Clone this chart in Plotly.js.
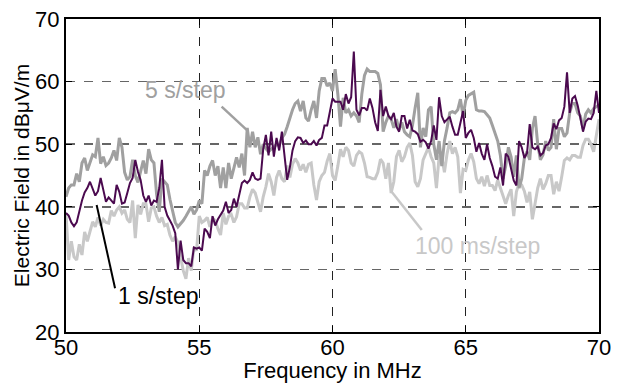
<!DOCTYPE html>
<html>
<head>
<meta charset="utf-8">
<script src="https://cdn.plot.ly/plotly-3.0.1.min.js"></script>
<style>html,body{margin:0;padding:0;background:#fff;}#chart{width:621px;height:383px;}</style>
</head>
<body>
<div id="chart"></div>
<script>
// Frequency grid: 50.0 to 70.0 MHz in 0.1 MHz steps
const freqStart = 50.0;
const freqStep = 0.1;

// 1 s/step (dark purple), dBµV/m
const oneSecStep = [
  39.0, 38.6, 37.5, 36.9, 37.5, 39.5, 41.0, 42.3, 43.0, 44.0,
  42.9, 41.8, 42.5, 44.6, 42.7, 40.8, 41.5, 41.0, 40.5, 43.5,
  42.4, 40.5, 40.7, 42.2, 43.8, 44.6, 47.5, 45.6, 44.3, 41.8,
  40.8, 41.8, 40.2, 41.0, 40.8, 43.0, 47.5, 40.0, 38.6, 37.8,
  37.0, 35.8, 30.0, 34.6, 31.5, 31.0, 31.0, 30.5, 33.5, 33.3,
  33.5, 33.0, 36.5, 36.0, 35.0, 38.5, 37.0, 38.0, 38.8, 39.4,
  40.8, 39.0, 39.5, 41.3, 40.0, 42.2, 43.8, 44.2, 43.8, 44.3,
  45.5, 44.5, 44.3, 44.5, 49.2, 51.5, 48.2, 52.0, 48.0, 51.0,
  49.0, 52.0, 47.8, 44.3, 46.3, 49.0, 50.5, 51.1, 51.0, 50.2,
  50.6, 50.0, 50.0, 50.5, 49.8, 50.7, 51.0, 53.0, 53.0, 55.3,
  57.3, 56.8, 56.8, 56.8, 55.5, 58.0, 56.5, 57.5, 64.8, 55.5,
  54.6, 55.8, 55.8, 55.4, 57.3, 55.8, 53.5, 52.1, 58.7, 54.5,
  56.0, 54.5, 54.0, 55.0, 52.8, 52.0, 54.5, 54.5, 52.5, 53.9,
  52.2, 52.0, 51.6, 50.4, 50.7, 50.3, 49.3, 50.5, 53.0, 50.7,
  57.5, 54.5, 53.5, 53.9, 54.4, 52.8, 51.5, 51.5, 53.6, 55.3,
  51.0, 51.8, 52.3, 51.0, 48.8, 50.2, 48.5, 47.5, 50.0, 47.8,
  46.5, 44.8, 44.5, 46.3, 43.4, 48.5, 48.0, 45.8, 44.2, 43.4,
  50.5, 49.5, 47.8, 48.6, 53.2, 49.5, 49.2, 49.6, 48.2, 48.6,
  49.8, 50.0, 51.0, 53.3, 52.4, 53.8, 54.2, 56.0, 61.5, 55.0,
  57.3, 57.7, 56.2, 54.2, 52.0, 53.6, 54.1, 54.0, 55.0, 58.5,
  55.0
];

// 5 s/step (medium grey)
const fiveSecStep = [
  41.6, 43.0, 43.5, 43.5, 45.3, 44.0, 47.0, 47.8, 45.8, 46.9,
  48.3, 48.0, 51.0, 46.9, 48.0, 46.6, 47.0, 47.8, 49.0, 47.4,
  51.0, 49.5, 45.5, 44.3, 44.8, 47.5, 45.0, 43.9, 45.5, 47.4,
  45.3, 49.2, 47.5, 47.0, 42.0, 39.2, 44.5, 44.0, 43.5, 41.2,
  39.5, 37.5, 36.8, 37.3, 37.8, 38.5, 39.3, 40.0, 38.8, 39.5,
  41.0, 40.5, 45.8, 45.0, 46.5, 47.4, 45.0, 46.5, 43.0, 46.3,
  43.0, 47.0, 44.5, 46.0, 47.9, 46.3, 48.5, 45.0, 52.6, 49.5,
  52.0, 49.5, 51.1, 48.4, 50.0, 49.3, 48.8, 49.2, 49.5, 50.0,
  49.8, 51.0, 51.6, 52.8, 54.2, 55.5, 56.5, 56.9, 55.3, 56.9,
  54.2, 53.7, 55.5, 56.9, 54.2, 58.5, 60.5, 60.5, 59.3, 59.8,
  58.5, 62.0, 58.0, 52.8, 57.4, 55.0, 55.5, 54.5, 55.0, 54.5,
  53.5, 58.0, 61.0, 62.0, 61.6, 61.6, 61.6, 61.3, 59.5, 52.0,
  53.5, 54.5, 54.0, 52.6, 54.0, 52.3, 53.5, 52.0, 51.5, 51.2,
  53.0, 55.8, 58.2, 49.5, 52.6, 51.2, 55.5, 56.0, 50.0, 47.5,
  50.5, 46.5, 50.5, 52.6, 55.0, 55.2, 55.0, 55.5, 57.2, 54.5,
  57.0, 57.8, 58.0, 58.3, 55.5, 55.3, 55.3, 55.2, 54.7, 54.2,
  53.0, 51.8, 50.5, 48.2, 44.5, 46.5, 49.5, 48.0, 44.8, 48.2,
  43.0, 44.5, 47.8, 48.8, 47.5, 52.5, 54.5, 50.0, 47.5, 48.3,
  50.5, 49.0, 49.5, 54.0, 49.2, 52.5, 52.5, 51.2, 51.8, 55.0,
  56.5, 56.5, 55.0, 54.5, 52.5, 54.8, 55.5, 55.0, 55.7, 56.0,
  56.3
];

// 100 ms/step (light grey)
const hundredMsStep = [
  39.0, 31.5, 34.5, 32.0, 31.5, 34.0, 32.3, 36.0, 34.5, 36.0,
  37.6, 36.8, 38.3, 37.0, 38.0, 37.5, 37.4, 39.4, 38.5, 39.5,
  40.0, 39.0, 39.5, 38.0, 37.5, 41.0, 35.0, 40.3, 38.8, 40.5,
  40.5, 37.6, 39.8, 40.0, 38.5, 37.5, 38.3, 37.0, 37.2, 35.5,
  34.5, 35.2, 34.3, 32.0, 29.8, 28.5, 31.8, 29.8, 33.5, 33.0,
  38.5, 37.5, 37.8, 38.3, 36.8, 38.2, 37.8, 36.5, 35.5, 39.0,
  37.2, 38.5, 38.8, 37.5, 38.4, 40.5, 40.5, 39.8, 39.8, 41.6,
  42.8, 42.2, 40.5, 39.2, 41.6, 43.2, 45.3, 44.0, 41.8, 44.7,
  45.8, 44.5, 44.0, 46.6, 44.7, 46.8, 47.7, 47.0, 45.8, 46.8,
  45.5, 46.8, 47.0, 43.5, 41.1, 44.0, 45.0, 45.5, 47.3, 48.5,
  45.0, 44.2, 46.5, 49.2, 48.0, 49.5, 49.0, 47.0, 46.5, 48.2,
  48.8, 48.5, 47.0, 44.8, 44.7, 44.5, 44.5, 45.5, 47.6, 47.0,
  44.5, 47.0, 42.2, 44.0, 48.0, 49.0, 47.2, 48.0, 49.5, 50.2,
  48.2, 44.0, 43.2, 44.5, 47.5, 48.6, 49.5, 48.0, 47.0, 43.0,
  48.0, 48.0, 45.5, 48.5, 50.5, 48.5, 49.5, 48.0, 42.2, 46.0,
  45.8, 47.5, 48.5, 47.2, 44.5, 43.7, 44.8, 43.3, 45.0, 43.4,
  43.4, 42.6, 44.3, 43.0, 41.8, 40.5, 41.8, 42.8, 38.5, 42.4,
  43.8, 43.5, 42.5, 40.7, 42.4, 38.0, 40.5, 43.0, 44.5, 42.8,
  43.7, 45.0, 45.0, 42.0, 44.0, 42.5, 44.8, 47.4, 47.8, 47.5,
  48.2, 48.2, 47.9, 47.9, 49.8, 50.8, 50.8, 50.0, 48.8, 51.8,
  54.0
];

const xTicks = [50, 55, 60, 65, 70];
const yTicks = [20, 30, 40, 50, 60, 70];
const seriesLabels = ['1 s/step', '5 s/step', '100 ms/step'];

const freq = oneSecStep.map((_, i) => +(freqStart + i * freqStep).toFixed(1));

const FONT = 'Liberation Sans, Arial, Helvetica, sans-serif';

const traces = [
  {x: freq, y: hundredMsStep, type: 'scatter', mode: 'lines', name: seriesLabels[2],
   line: {color: '#c8c8c8', width: 3}},
  {x: freq, y: fiveSecStep, type: 'scatter', mode: 'lines', name: seriesLabels[1],
   line: {color: '#a0a0a0', width: 3}},
  {x: freq, y: oneSecStep, type: 'scatter', mode: 'lines', name: seriesLabels[0],
   line: {color: '#4b0a4f', width: 2}}
];

const layout = {
  width: 621, height: 383,
  margin: {l: 66, r: 22, t: 19, b: 51, pad: 0},
  paper_bgcolor: '#fff', plot_bgcolor: '#fff',
  showlegend: false,
  font: {family: FONT, size: 22, color: '#000'},
  xaxis: {
    range: [50, 70], tickvals: xTicks, ticktext: xTicks.map(String),
    ticks: 'inside', ticklen: 6, tickwidth: 1, tickcolor: '#000',
    ticklabelstandoff: -5,
    showline: true, linecolor: '#000', linewidth: 2, mirror: 'ticks',
    showgrid: true, gridcolor: '#222', gridwidth: 1, griddash: 'dash',
    zeroline: false,
    tickfont: {family: FONT, size: 22, color: '#000'},
    title: {text: 'Frequency in MHz', font: {family: FONT, size: 22, color: '#000'}, standoff: 3}
  },
  yaxis: {
    range: [20, 70], tickvals: yTicks, ticktext: yTicks.map(String),
    ticks: 'inside', ticklen: 6, tickwidth: 1, tickcolor: '#000',
    showline: true, linecolor: '#000', linewidth: 2, mirror: 'ticks',
    showgrid: true, gridcolor: '#666', gridwidth: 1.5, griddash: 'dash',
    zeroline: false,
    tickfont: {family: FONT, size: 22, color: '#000'},
    title: {text: 'Electric Field in dBμV/m', font: {family: FONT, size: 21, color: '#000'}, standoff: 0}
  },
  shapes: [
    {type: 'line', xref: 'x', yref: 'y', x0: 51.15, y0: 40.3, x1: 51.84, y1: 27.0,
     line: {color: '#000', width: 2}},
    {type: 'line', xref: 'x', yref: 'y', x0: 55.84, y0: 56.0, x1: 56.78, y1: 52.3,
     line: {color: '#a0a0a0', width: 2.5}},
    {type: 'line', xref: 'x', yref: 'y', x0: 62.22, y0: 42.4, x1: 63.35, y1: 36.3,
     line: {color: '#c8c8c8', width: 2.5}}
  ],
  annotations: [
    {text: seriesLabels[0], xref: 'x', yref: 'y', x: 53.47, y: 25.8, showarrow: false,
     font: {family: FONT, size: 23, color: '#000'}},
    {text: seriesLabels[1], xref: 'x', yref: 'y', x: 54.47, y: 58.7, showarrow: false,
     font: {family: FONT, size: 23, color: '#a0a0a0'}},
    {text: seriesLabels[2], xref: 'x', yref: 'y', x: 65.44, y: 33.7, showarrow: false,
     font: {family: FONT, size: 23, color: '#c8c8c8'}}
  ]
};

Plotly.newPlot('chart', traces, layout, {displayModeBar: false, staticPlot: true});
</script>
</body>
</html>
